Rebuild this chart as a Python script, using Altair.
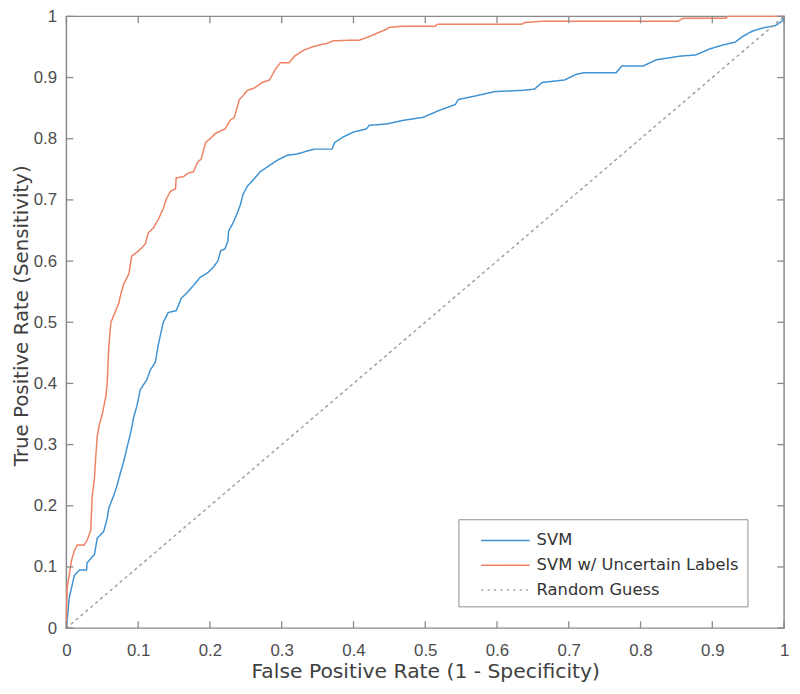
import altair as alt
import pandas as pd

# ---------------- data ----------------
svm_x = [0, 0.004, 0.011, 0.018, 0.028, 0.029, 0.039, 0.043, 0.052, 0.057, 0.059, 0.066, 0.070, 0.076,
         0.080, 0.084, 0.090, 0.094, 0.098, 0.103, 0.112, 0.117, 0.124, 0.128, 0.135, 0.142, 0.153, 0.160,
         0.167, 0.177, 0.186, 0.197, 0.204, 0.211, 0.215, 0.221, 0.225, 0.226, 0.232, 0.239, 0.243, 0.246,
         0.252, 0.262, 0.270, 0.280, 0.294, 0.308, 0.321, 0.345, 0.370, 0.374, 0.386, 0.400, 0.418, 0.422,
         0.446, 0.469, 0.497, 0.519, 0.542, 0.546, 0.570, 0.597, 0.634, 0.652, 0.663, 0.694, 0.710, 0.721,
         0.766, 0.774, 0.804, 0.822, 0.855, 0.877, 0.897, 0.914, 0.932, 0.942, 0.956, 0.970, 0.988, 0.997, 1.0]
svm_y = [0, 0.050, 0.086, 0.095, 0.095, 0.107, 0.120, 0.147, 0.158, 0.180, 0.196, 0.217, 0.231, 0.257,
         0.273, 0.293, 0.322, 0.346, 0.362, 0.390, 0.406, 0.422, 0.435, 0.463, 0.500, 0.516, 0.519, 0.539,
         0.547, 0.560, 0.573, 0.581, 0.589, 0.600, 0.617, 0.620, 0.633, 0.649, 0.662, 0.681, 0.694, 0.709,
         0.722, 0.735, 0.746, 0.754, 0.765, 0.773, 0.775, 0.783, 0.783, 0.794, 0.803, 0.811, 0.816, 0.822,
         0.824, 0.830, 0.835, 0.846, 0.856, 0.864, 0.870, 0.877, 0.879, 0.881, 0.892, 0.896, 0.905, 0.908,
         0.908, 0.919, 0.919, 0.929, 0.935, 0.937, 0.947, 0.953, 0.958, 0.967, 0.976, 0.981, 0.985, 0.992, 1.0]

unc_x = [0, 0, 0.001, 0.004, 0.007, 0.011, 0.015, 0.025, 0.029, 0.034, 0.036, 0.039, 0.041, 0.043, 0.046,
         0.050, 0.055, 0.057, 0.059, 0.062, 0.066, 0.073, 0.076, 0.080, 0.087, 0.091, 0.101, 0.110, 0.114,
         0.121, 0.128, 0.135, 0.139, 0.145, 0.152, 0.153, 0.163, 0.170, 0.177, 0.183, 0.188, 0.194, 0.201,
         0.208, 0.221, 0.228, 0.234, 0.241, 0.246, 0.252, 0.262, 0.273, 0.283, 0.291, 0.298, 0.310, 0.318,
         0.331, 0.345, 0.363, 0.372, 0.394, 0.408, 0.422, 0.432, 0.446, 0.450, 0.469, 0.505, 0.514, 0.517,
         0.634, 0.639, 0.663, 0.852, 0.859, 0.919, 0.921, 1.0]
unc_y = [0, 0.018, 0.066, 0.087, 0.110, 0.126, 0.136, 0.136, 0.144, 0.160, 0.217, 0.244, 0.282, 0.314,
         0.333, 0.350, 0.379, 0.403, 0.460, 0.500, 0.511, 0.531, 0.547, 0.563, 0.579, 0.608, 0.617, 0.628,
         0.646, 0.654, 0.668, 0.686, 0.701, 0.714, 0.718, 0.736, 0.738, 0.744, 0.746, 0.762, 0.767, 0.794,
         0.801, 0.809, 0.816, 0.830, 0.835, 0.864, 0.870, 0.879, 0.883, 0.892, 0.896, 0.913, 0.924, 0.924,
         0.935, 0.945, 0.951, 0.956, 0.960, 0.961, 0.961, 0.967, 0.972, 0.979, 0.982, 0.984, 0.984, 0.984,
         0.987, 0.987, 0.990, 0.992, 0.992, 0.997, 0.997, 1.0, 1.0]

guess_x = [0, 1]
guess_y = [0, 1]

series_names = ["SVM", "SVM w/ Uncertain Labels", "Random Guess"]
series_colors = ["#3f93d3", "#ee8262", "#a0a0a0"]
series_dash = [[1, 0], [1, 0], [2, 4.5]]

tick_values = [0, 0.1, 0.2, 0.3, 0.4, 0.5, 0.6, 0.7, 0.8, 0.9, 1.0]

# ---------------- build tables ----------------
rows = []
for name, xs, ys in zip(series_names, [svm_x, unc_x, guess_x], [svm_y, unc_y, guess_y]):
    for i, (a, b) in enumerate(zip(xs, ys)):
        rows.append({"series": name, "x": a, "y": b, "idx": i})
df = pd.DataFrame(rows)
xticks = pd.DataFrame({"x": tick_values})
yticks = pd.DataFrame({"y": tick_values})

TICK_FONT = "Liberation Sans"
TEXT_FONT = "DejaVu Sans"
W, H = 725, 618
TICK = 7

xscale = alt.Scale(domain=[0, 1], nice=False, zero=False)
yscale = alt.Scale(domain=[0, 1], nice=False, zero=False)

lines = alt.Chart(df).mark_line(strokeWidth=1.5, strokeCap="round").encode(
    x=alt.X("x:Q", scale=xscale,
            axis=alt.Axis(title="False Positive Rate (1 - Specificity)", values=tick_values, format="~g",
                          tickSize=0, domain=False, grid=False, labelPadding=15, labelFlush=False,
                          labelFontSize=17, labelColor="#4d4d4d", labelFont=TICK_FONT,
                          titleFontSize=20.5, titleColor="#404040", titleFont=TEXT_FONT,
                          titleFontWeight="normal", titlePadding=3)),
    y=alt.Y("y:Q", scale=yscale,
            axis=alt.Axis(title="True Positive Rate (Sensitivity)", values=tick_values, format="~g",
                          tickSize=0, domain=False, grid=False, labelPadding=10, labelFlush=False,
                          labelFontSize=17, labelColor="#4d4d4d", labelFont=TICK_FONT,
                          titleFontSize=20, titleColor="#404040", titleFont=TEXT_FONT,
                          titleFontWeight="normal", titlePadding=2, titleY=302)),
    color=alt.Color("series:N", scale=alt.Scale(domain=series_names, range=series_colors), title=None),
    strokeDash=alt.StrokeDash("series:N", scale=alt.Scale(domain=series_names, range=series_dash), title=None),
    order=alt.Order("idx:Q"),
)

tick_color = "#8a8a8a"
xt_bottom = alt.Chart(xticks).mark_rule(color=tick_color, strokeWidth=1.3).encode(
    x=alt.X("x:Q", scale=xscale), y=alt.value(H), y2=alt.value(H - TICK))
xt_top = alt.Chart(xticks).mark_rule(color=tick_color, strokeWidth=1.3).encode(
    x=alt.X("x:Q", scale=xscale), y=alt.value(0), y2=alt.value(TICK))
yt_left = alt.Chart(yticks).mark_rule(color=tick_color, strokeWidth=1.3).encode(
    y=alt.Y("y:Q", scale=yscale), x=alt.value(0), x2=alt.value(TICK))
yt_right = alt.Chart(yticks).mark_rule(color=tick_color, strokeWidth=1.3).encode(
    y=alt.Y("y:Q", scale=yscale), x=alt.value(W), x2=alt.value(W - TICK))

chart = alt.layer(lines, xt_bottom, xt_top, yt_left, yt_right).properties(
    width=W, height=H,
    autosize=alt.AutoSizeParams(type="none"),
    padding={"left": 59, "top": 5, "right": 8, "bottom": 55},
).configure_view(
    stroke=tick_color, strokeWidth=1.5
).configure_legend(
    orient="none", legendX=396, legendY=508,
    strokeColor="#8f8f8f", fillColor="white", padding=8,
    symbolType="M-2,0H2", symbolSize=600, symbolStrokeWidth=1.6, symbolOffset=26,
    labelFont=TEXT_FONT, labelFontSize=16.5, labelColor="#333333", labelOffset=18, labelLimit=400,
    rowPadding=3,
)

chart.save("out.html", embed_options={"renderer": "svg", "actions": False})
